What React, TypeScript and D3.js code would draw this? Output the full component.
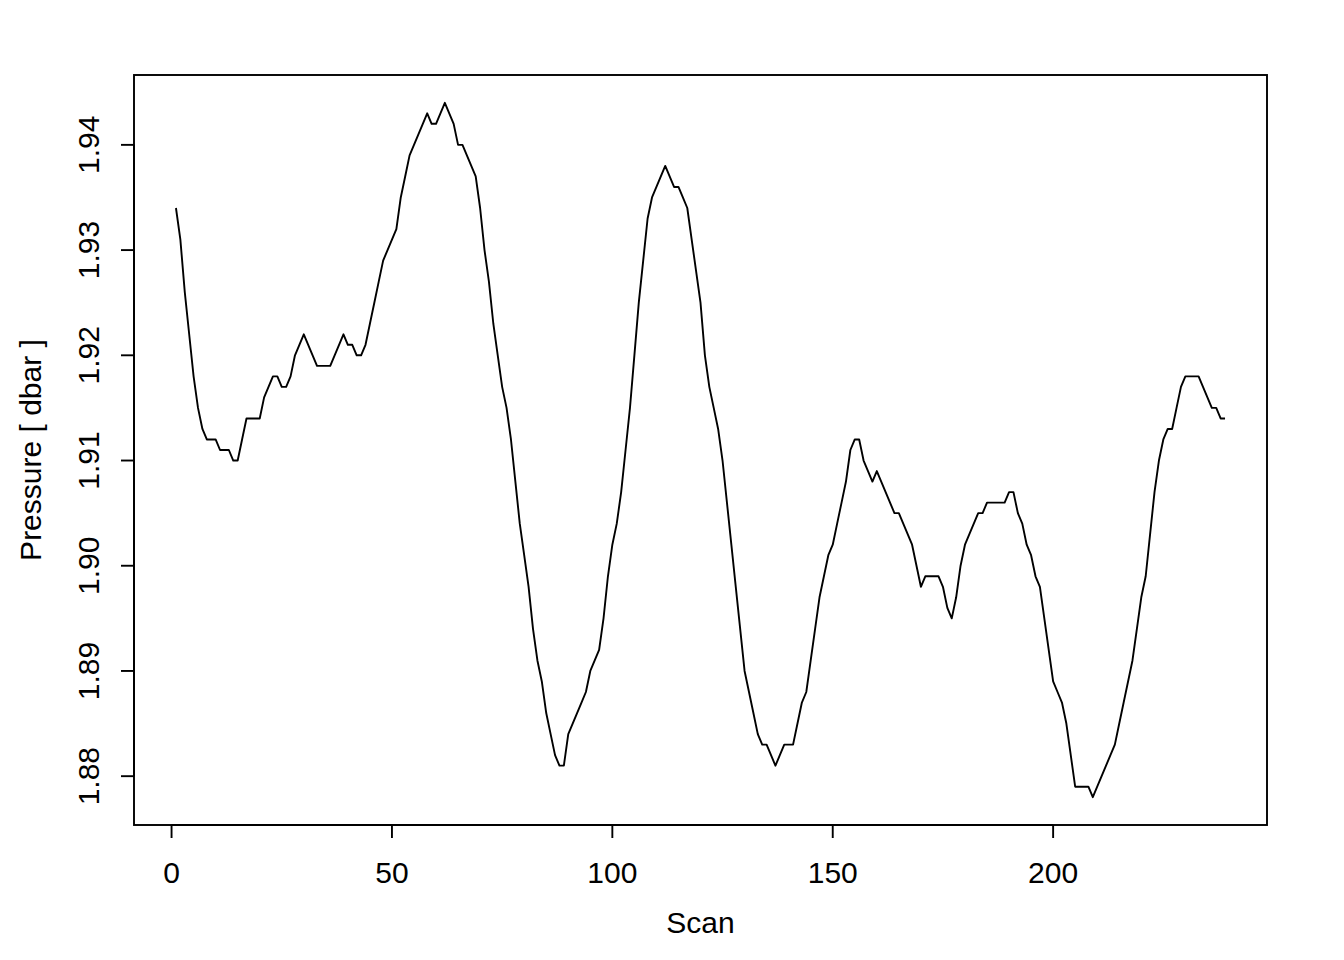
import React from "react";
import * as d3 from "d3";

// Pressure (dbar) for scans 1..239
const pressure: number[] = [
  1.934, 1.931, 1.926, 1.922, 1.918, 1.915, 1.913, 1.912, 1.912, 1.912,
  1.911, 1.911, 1.911, 1.910, 1.910, 1.912, 1.914, 1.914, 1.914, 1.914,
  1.916, 1.917, 1.918, 1.918, 1.917, 1.917, 1.918, 1.920, 1.921, 1.922,
  1.921, 1.920, 1.919, 1.919, 1.919, 1.919, 1.920, 1.921, 1.922, 1.921,
  1.921, 1.920, 1.920, 1.921, 1.923, 1.925, 1.927, 1.929, 1.930, 1.931,
  1.932, 1.935, 1.937, 1.939, 1.940, 1.941, 1.942, 1.943, 1.942, 1.942,
  1.943, 1.944, 1.943, 1.942, 1.940, 1.940, 1.939, 1.938, 1.937, 1.934,
  1.930, 1.927, 1.923, 1.920, 1.917, 1.915, 1.912, 1.908, 1.904, 1.901,
  1.898, 1.894, 1.891, 1.889, 1.886, 1.884, 1.882, 1.881, 1.881, 1.884,
  1.885, 1.886, 1.887, 1.888, 1.890, 1.891, 1.892, 1.895, 1.899, 1.902,
  1.904, 1.907, 1.911, 1.915, 1.920, 1.925, 1.929, 1.933, 1.935, 1.936,
  1.937, 1.938, 1.937, 1.936, 1.936, 1.935, 1.934, 1.931, 1.928, 1.925,
  1.920, 1.917, 1.915, 1.913, 1.910, 1.906, 1.902, 1.898, 1.894, 1.890,
  1.888, 1.886, 1.884, 1.883, 1.883, 1.882, 1.881, 1.882, 1.883, 1.883,
  1.883, 1.885, 1.887, 1.888, 1.891, 1.894, 1.897, 1.899, 1.901, 1.902,
  1.904, 1.906, 1.908, 1.911, 1.912, 1.912, 1.910, 1.909, 1.908, 1.909,
  1.908, 1.907, 1.906, 1.905, 1.905, 1.904, 1.903, 1.902, 1.900, 1.898,
  1.899, 1.899, 1.899, 1.899, 1.898, 1.896, 1.895, 1.897, 1.900, 1.902,
  1.903, 1.904, 1.905, 1.905, 1.906, 1.906, 1.906, 1.906, 1.906, 1.907,
  1.907, 1.905, 1.904, 1.902, 1.901, 1.899, 1.898, 1.895, 1.892, 1.889,
  1.888, 1.887, 1.885, 1.882, 1.879, 1.879, 1.879, 1.879, 1.878, 1.879,
  1.880, 1.881, 1.882, 1.883, 1.885, 1.887, 1.889, 1.891, 1.894, 1.897,
  1.899, 1.903, 1.907, 1.910, 1.912, 1.913, 1.913, 1.915, 1.917, 1.918,
  1.918, 1.918, 1.918, 1.917, 1.916, 1.915, 1.915, 1.914, 1.914,
];

const xTicks: number[] = [0, 50, 100, 150, 200];
const yTicks: number[] = [1.88, 1.89, 1.9, 1.91, 1.92, 1.93, 1.94];
const xLabel = "Scan";
const yLabel = "Pressure [ dbar ]";

export default function App() {
  const W = 1344;
  const H = 960;
  const left = 134, right = 1267, top = 75, bottom = 825;
  const font = "'Liberation Sans', Arial, Helvetica, sans-serif";
  const fs = 30;
  const tick = 13;

  const data = pressure.map((p, i) => ({ scan: i + 1, p }));
  const xExt = d3.extent(data, (d) => d.scan) as [number, number];
  const yExt = d3.extent(data, (d) => d.p) as [number, number];
  const xPad = (xExt[1] - xExt[0]) * 0.04;
  const yPad = (yExt[1] - yExt[0]) * 0.04;
  const x = d3.scaleLinear().domain([xExt[0] - xPad, xExt[1] + xPad]).range([left, right]);
  const y = d3.scaleLinear().domain([yExt[0] - yPad, yExt[1] + yPad]).range([bottom, top]);

  const line = d3
    .line<{ scan: number; p: number }>()
    .x((d) => x(d.scan))
    .y((d) => y(d.p));

  const fmtY = (v: number) => v.toFixed(2);

  return (
    <svg
      width={W}
      height={H}
      viewBox={`0 0 ${W} ${H}`}
      style={{ position: "absolute", left: 0, top: 0, background: "#fff" }}
      fontFamily={font}
    >
      <rect x={0} y={0} width={W} height={H} fill="#fff" />
      <path d={line(data) ?? ""} fill="none" stroke="#000" strokeWidth={1.9} strokeLinejoin="round" />
      <rect x={left} y={top} width={right - left} height={bottom - top} fill="none" stroke="#000" strokeWidth={1.9} />

      {/* x axis */}
      <line x1={x(xTicks[0])} x2={x(xTicks[xTicks.length - 1])} y1={bottom} y2={bottom} stroke="#000" strokeWidth={1.9} />
      {xTicks.map((t) => (
        <g key={`xt${t}`}>
          <line x1={x(t)} x2={x(t)} y1={bottom} y2={bottom + tick} stroke="#000" strokeWidth={1.9} />
          <text x={x(t)} y={883} textAnchor="middle" fontSize={fs} fill="#000">
            {t}
          </text>
        </g>
      ))}

      {/* y axis */}
      <line x1={left} x2={left} y1={y(yTicks[0])} y2={y(yTicks[yTicks.length - 1])} stroke="#000" strokeWidth={1.9} />
      {yTicks.map((t) => (
        <g key={`yt${t}`}>
          <line x1={left} x2={left - tick} y1={y(t)} y2={y(t)} stroke="#000" strokeWidth={1.9} />
          <text
            transform={`translate(${98.5},${y(t)}) rotate(-90)`}
            textAnchor="middle"
            fontSize={fs}
            fill="#000"
          >
            {fmtY(t)}
          </text>
        </g>
      ))}

      <text x={(left + right) / 2} y={933} textAnchor="middle" fontSize={fs} fill="#000">
        {xLabel}
      </text>
      <text
        transform={`translate(${41},${(top + bottom) / 2}) rotate(-90)`}
        textAnchor="middle"
        fontSize={fs}
        fill="#000"
      >
        {yLabel}
      </text>
    </svg>
  );
}
